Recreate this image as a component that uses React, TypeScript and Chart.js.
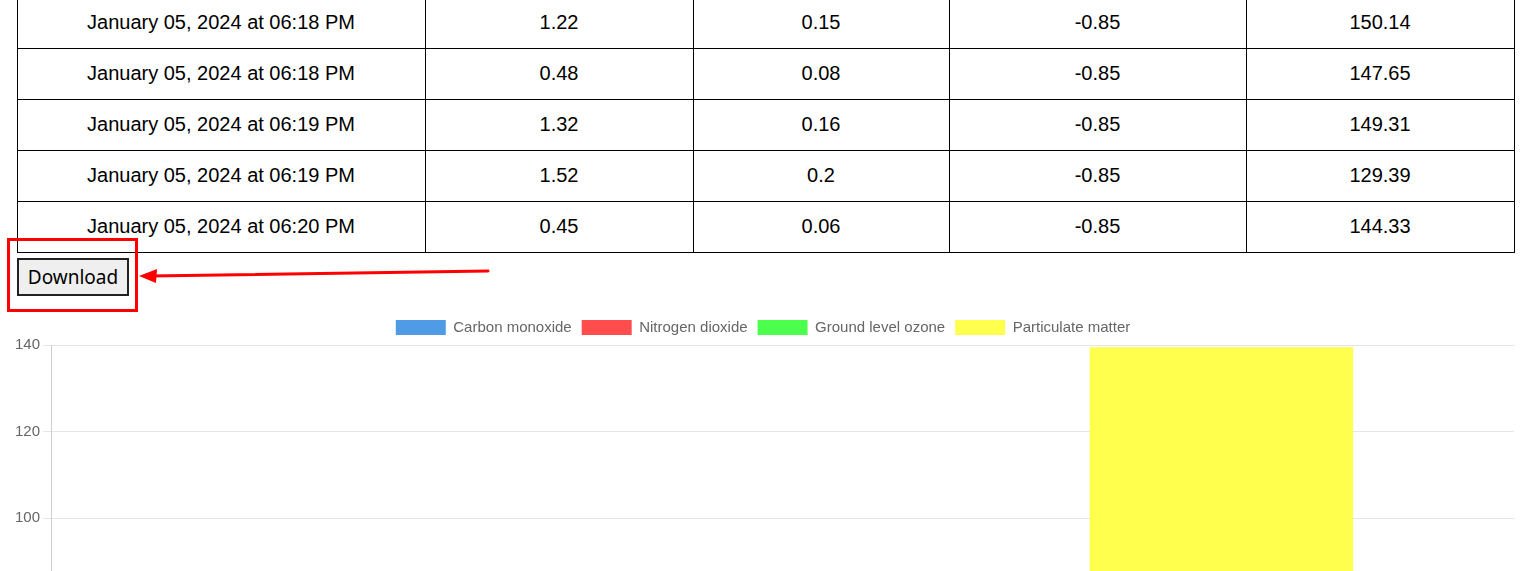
import { useEffect, useRef } from 'react';
import { Chart, registerables } from 'chart.js';

Chart.register(...registerables);

const rows = [
  ['January 05, 2024 at 06:18 PM', '1.22', '0.15', '-0.85', '150.14'],
  ['January 05, 2024 at 06:18 PM', '0.48', '0.08', '-0.85', '147.65'],
  ['January 05, 2024 at 06:19 PM', '1.32', '0.16', '-0.85', '149.31'],
  ['January 05, 2024 at 06:19 PM', '1.52', '0.2', '-0.85', '129.39'],
  ['January 05, 2024 at 06:20 PM', '0.45', '0.06', '-0.85', '144.33'],
];
const colEdges = [17, 425, 693, 949, 1246, 1514];

const categories = [''];
const seriesNames = ['Carbon monoxide', 'Nitrogen dioxide', 'Ground level ozone', 'Particulate matter'];
const seriesValues = [[1.0], [0.13], [-0.85], [139.5]];
const seriesColors = ['#4f9be6', '#ff4d4d', '#4dff4d', '#ffff4d'];

export default function App() {
  const canvasRef = useRef<HTMLCanvasElement | null>(null);

  useEffect(() => {
    if (!canvasRef.current) return;
    const chart = new Chart(canvasRef.current, {
      type: 'bar',
      data: {
        labels: categories,
        datasets: seriesNames.map((name, i) => ({
          label: name,
          data: seriesValues[i],
          backgroundColor: seriesColors[i],
        })),
      },
      options: {
        animation: false,
        responsive: false,
        maintainAspectRatio: false,
        layout: { padding: { left: 4 } },
        plugins: {
          legend: {
            labels: { boxWidth: 50, font: { family: 'Liberation Sans', size: 15 }, color: '#666' },
          },
          tooltip: { enabled: false },
        },
        scales: {
          x: { ticks: { font: { family: 'Liberation Sans', size: 15 } } },
          y: { ticks: { font: { family: 'Liberation Sans', size: 15 }, color: '#666' } },
        },
      },
    });
    return () => chart.destroy();
  }, []);

  const cell = { position: 'absolute' as const, fontFamily: 'Liberation Sans, Arial', fontSize: 20, color: '#000', textAlign: 'center' as const, lineHeight: '51px' };

  return (
    <div style={{ position: 'fixed', left: 0, top: 0, width: 1539, height: 571, overflow: 'hidden', background: '#fff' }}>
      {colEdges.map((x) => (
        <div key={'v' + x} style={{ position: 'absolute', left: x, top: 0, width: 1, height: 253, background: '#000' }} />
      ))}
      {[48, 99, 150, 201, 252].map((y) => (
        <div key={'h' + y} style={{ position: 'absolute', left: 17, top: y, width: 1498, height: 1, background: '#000' }} />
      ))}
      {rows.map((r, ri) =>
        r.map((t, ci) => (
          <div key={ri + '-' + ci} style={{ ...cell, top: -3 + ri * 51, left: colEdges[ci], width: colEdges[ci + 1] - colEdges[ci] }}>
            {t}
          </div>
        ))
      )}
      <button
        style={{ position: 'absolute', left: 17, top: 258, width: 112, height: 38, border: '2px solid #222', background: '#efefef', fontFamily: 'Noto Sans', fontSize: 19, padding: 0 }}
      >
        Download
      </button>
      <div style={{ position: 'absolute', left: 7, top: 238, width: 125, height: 68, border: '3px solid #f00' }} />
      <svg style={{ position: 'absolute', left: 0, top: 0 }} width={1539} height={571}>
        <line x1={488} y1={271} x2={150} y2={276} stroke="#f00" strokeWidth={3} strokeLinecap="round" />
        <polygon points="139,276 157,269 156,283" fill="#f00" />
      </svg>
      <canvas ref={canvasRef} width={1506} height={760} style={{ position: 'absolute', left: 8, top: 310 }} />
    </div>
  );
}
